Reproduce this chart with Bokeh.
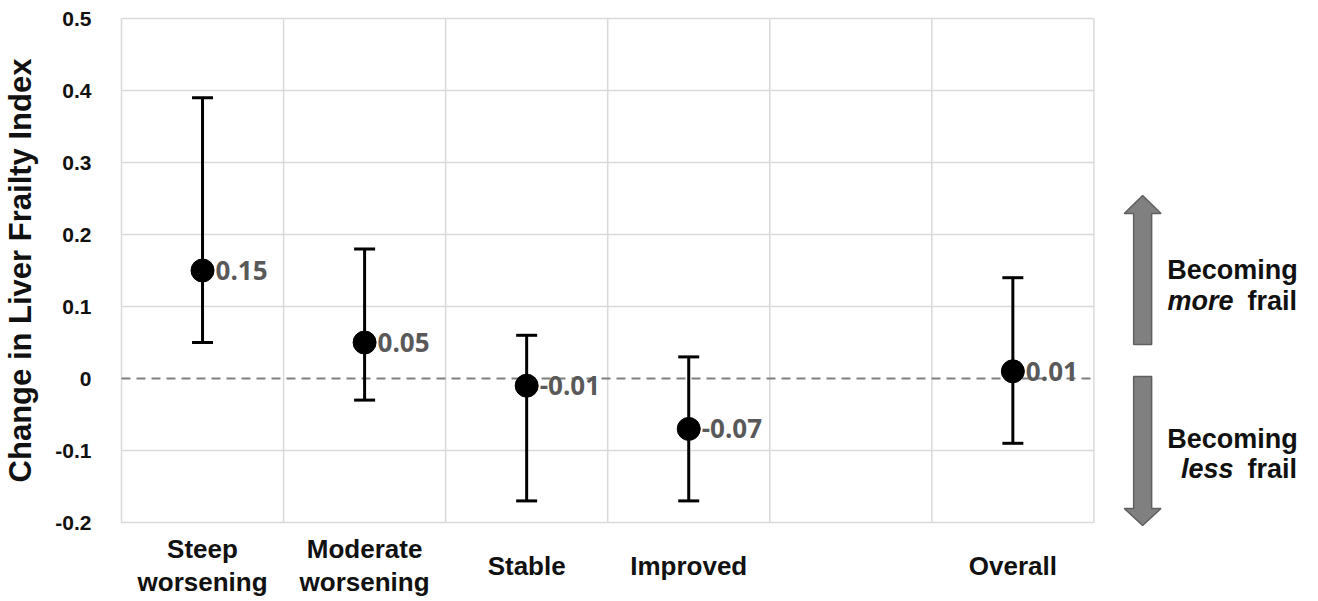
from bokeh.plotting import figure
from bokeh.layouts import column
from bokeh.models import Range1d, FixedTicker, ColumnDataSource
from bokeh.embed import file_html
from bokeh.resources import INLINE
from bokeh.core.properties import value

# ---------------- data ----------------
slots = ["Steep\nworsening", "Moderate\nworsening", "Stable", "Improved", "", "Overall"]
groups = ["Steep\nworsening", "Moderate\nworsening", "Stable", "Improved", "Overall"]
means = [0.15, 0.05, -0.01, -0.07, 0.01]
lower = [0.05, -0.03, -0.17, -0.17, -0.09]
upper = [0.39, 0.18, 0.06, 0.03, 0.14]
mean_labels = ["0.15", "0.05", "-0.01", "-0.07", "0.01"]
y_ticks = [-0.2, -0.1, 0.0, 0.1, 0.2, 0.3, 0.4, 0.5]
y_tick_labels = ["-0.2", "-0.1", "0", "0.1", "0.2", "0.3", "0.4", "0.5"]
y_title = "Change in Liver Frailty Index"
up_text = ["Becoming", "more", "frail"]
down_text = ["Becoming", "less", "frail"]

# ---------------- layout helpers (pixels -> data) ----------------
W = 1310
H_MAIN = 533
H_CAT = 66
X0_PX, X_UNIT = 120.0, 162.2
Y0_PX, Y_UNIT = 378.0, 720.0


def dx(px):
    return (px - X0_PX) / X_UNIT


def dy(py):
    return (Y0_PX - py) / Y_UNIT


ARIAL = value("Liberation Sans")
OPEN = value("Open Sans")
TXT = "#111111"

p = figure(width=W, height=H_MAIN, output_backend="svg", toolbar_location=None,
           x_range=Range1d(dx(118), dx(W)), y_range=Range1d(dy(529), dy(11)),
           min_border_left=118, min_border_right=0, min_border_top=11,
           min_border_bottom=H_MAIN - 529)
p.outline_line_color = None
p.background_fill_color = "white"
p.border_fill_color = "white"
p.xgrid.visible = False
p.ygrid.visible = False
p.xaxis.visible = False

ax = p.yaxis[0]
ax.ticker = FixedTicker(ticks=y_ticks)
ax.major_label_overrides = {t: l for t, l in zip(y_ticks, y_tick_labels)}
ax.axis_line_color = None
ax.major_tick_line_color = None
ax.minor_tick_line_color = None
ax.major_label_standoff = 22
ax.major_label_text_font = "Liberation Sans"
ax.major_label_text_font_style = "bold"
ax.major_label_text_font_size = "21px"
ax.major_label_text_color = TXT
ax.axis_label = y_title
ax.axis_label_text_font = "Liberation Sans"
ax.axis_label_text_font_style = "bold"
ax.axis_label_text_font_size = "31px"
ax.axis_label_text_color = TXT
ax.axis_label_standoff = 14

n_slots = len(slots)
# ---- grid lines (restricted to the chart area) ----
grid_y = [t for t in y_ticks if t != 0]
p.segment(x0=[0] * len(grid_y), x1=[n_slots] * len(grid_y), y0=grid_y, y1=grid_y,
          line_color="#d9d9d9", line_width=1.5)
p.segment(x0=list(range(n_slots + 1)), x1=list(range(n_slots + 1)),
          y0=[y_ticks[0]] * (n_slots + 1), y1=[y_ticks[-1]] * (n_slots + 1),
          line_color="#d9d9d9", line_width=1.5)
# zero reference line
p.segment(x0=[0], x1=[n_slots], y0=[0], y1=[0], line_color="#7f7f7f",
          line_width=2, line_dash="9 6")

xs = [slots.index(g) + 0.5 for g in groups]
src = ColumnDataSource(dict(x=xs, mean=means, lower=lower, upper=upper, lab=mean_labels))

# error bars
p.segment(x0="x", x1="x", y0="lower", y1="upper", source=src, line_color="black", line_width=3)
p.scatter(x="x", y="upper", source=src, marker="dash", size=21, line_color="black", line_width=3)
p.scatter(x="x", y="lower", source=src, marker="dash", size=21, line_color="black", line_width=3)
# mean points
p.scatter(x="x", y="mean", source=src, size=23, fill_color="black", line_color="black")
# value labels
p.text(x="x", y="mean", text="lab", source=src, x_offset=13, text_baseline="middle",
       text_align="left", text_font=OPEN, text_font_style="bold", text_font_size="26px",
       text_color="#595959")

# ---- arrows on the right ----
cx = dx(1142)
hw_head = 18.4 / X_UNIT
hw_shaft = 9.0 / X_UNIT
up = ([cx, cx + hw_head, cx + hw_shaft, cx + hw_shaft, cx - hw_shaft, cx - hw_shaft, cx - hw_head],
      [dy(195), dy(213), dy(213), dy(344), dy(344), dy(213), dy(213)])
down = ([cx, cx + hw_head, cx + hw_shaft, cx + hw_shaft, cx - hw_shaft, cx - hw_shaft, cx - hw_head],
        [dy(525), dy(508), dy(508), dy(376), dy(376), dy(508), dy(508)])
p.patches(xs=[up[0], down[0]], ys=[up[1], down[1]], fill_color="#808080",
          line_color="#5f5f5f", line_width=1.5)

for (t0, t1, t2), yb1, yb2 in [(up_text, 269, 300), (down_text, 438, 468)]:
    p.text(x=[dx(1232)], y=[dy(yb1)], text=[t0], text_align="center", text_baseline="alphabetic",
           text_font=ARIAL, text_font_style="bold", text_font_size="27px", text_color=TXT)
    p.text(x=[dx(1233)], y=[dy(yb2)], text=[t1], text_align="right", text_baseline="alphabetic",
           text_font=ARIAL, text_font_style="bold italic", text_font_size="27px", text_color=TXT)
    p.text(x=[dx(1247)], y=[dy(yb2)], text=[t2], text_align="left", text_baseline="alphabetic",
           text_font=ARIAL, text_font_style="bold", text_font_size="27px", text_color=TXT)

# ---------------- category label strip below the chart ----------------
pc = figure(width=W, height=H_CAT, output_backend="svg", toolbar_location=None,
            x_range=p.x_range, y_range=Range1d(0, H_CAT),
            min_border_left=118, min_border_right=0, min_border_top=0, min_border_bottom=0)
pc.outline_line_color = None
pc.xaxis.visible = False
pc.yaxis.visible = False
pc.xgrid.visible = False
pc.ygrid.visible = False
cat_x = [i + 0.5 for i, s in enumerate(slots) if s]
cat_t = [s for s in slots if s]
# label block centre at pixel row 565 of the whole picture
cat_y = [H_MAIN + H_CAT - 565] * len(cat_t)
pc.text(x=cat_x, y=cat_y, text=cat_t, text_align="center", text_baseline="middle",
        text_font=ARIAL, text_font_style="bold", text_font_size="26px",
        text_line_height=1.07, text_color=TXT)

layout = column(p, pc, spacing=0)
open("out.html", "w").write(file_html(layout, INLINE))
